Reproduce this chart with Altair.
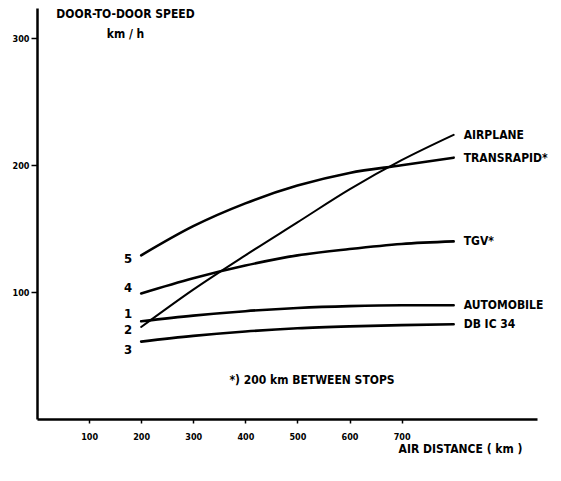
import altair as alt
import pandas as pd

# ---- data ----
distance = [200, 300, 400, 500, 600, 700, 800]
airplane = [72.5, 102, 129, 155, 181, 204, 224]
transrapid = [129, 152, 170, 184, 194, 200, 206]
tgv = [99, 111, 121, 129, 134, 138, 140]
automobile = [77, 81.5, 85, 87.5, 89, 89.7, 89.7]
db_ic = [61, 65.5, 69, 71.5, 73, 74, 74.7]

series_names = ["AIRPLANE", "TRANSRAPID*", "TGV*", "AUTOMOBILE", "DB IC 34"]
series_numbers = ["2", "5", "4", "1", "3"]
series_values = [airplane, transrapid, tgv, automobile, db_ic]

x_ticks = [100, 200, 300, 400, 500, 600, 700]
y_ticks = [100, 200, 300]

y_title = ["DOOR-TO-DOOR SPEED", "km / h"]
x_title = "AIR DISTANCE ( km )"
footnote = "*) 200 km BETWEEN STOPS"

# ---- styling ----
FONT = "DejaVu Sans Condensed, DejaVu Sans"
line_widths = {"AIRPLANE": 2.0}
number_dy = {"2": 3, "5": 4, "4": -5, "1": -7, "3": 8}

x_scale = alt.Scale(domain=[0, 960], nice=False, zero=True)
y_scale = alt.Scale(domain=[0, 324], nice=False, zero=True)

x_axis = alt.Axis(values=x_ticks, title=x_title, grid=False, tickSize=4,
                  labelPadding=9, labelFontSize=9, labelFont=FONT,
                  labelFontWeight="bold", titleFont=FONT, titleFontSize=12,
                  titleFontWeight="bold", titleX=423, titleY=29,
                  titleAnchor="middle", titleAlign="center", titleBaseline="middle",
                  domainWidth=2.5, domainColor="black", tickColor="black",
                  tickWidth=1.5, labelColor="black", titleColor="black")
y_axis = alt.Axis(values=y_ticks, title=y_title, grid=False, tickSize=6,
                  labelPadding=2, labelFontSize=9, labelFont=FONT,
                  labelFontWeight="bold", titleFont=FONT, titleFontSize=12,
                  titleFontWeight="bold", titleAngle=0, titleX=88, titleY=5,
                  titleAlign="center", titleBaseline="middle", titleLineHeight=20,
                  domainWidth=2.5, domainColor="black", tickColor="black",
                  tickWidth=1.5, labelColor="black", titleColor="black")

xe = alt.X("distance:Q", scale=x_scale, axis=x_axis)
ye = alt.Y("speed:Q", scale=y_scale, axis=y_axis)

layers = []
for name, num, vals in zip(series_names, series_numbers, series_values):
    df = pd.DataFrame({"distance": distance, "speed": vals, "series": name, "num": num})
    base = alt.Chart(df)
    layers.append(base.mark_line(interpolate="monotone", color="black",
                                 strokeWidth=line_widths.get(name, 2.6),
                                 strokeCap="round").encode(x=xe, y=ye))
    end = base.transform_filter(alt.datum.distance == max(distance))
    layers.append(end.mark_text(align="left", baseline="middle", dx=10, font=FONT,
                                fontSize=12, fontWeight="bold", color="black")
                  .encode(x=xe, y=ye, text="series:N"))
    start = base.transform_filter(alt.datum.distance == min(distance))
    layers.append(start.mark_text(align="center", baseline="middle", dx=-13,
                                  dy=number_dy[num], font=FONT, fontSize=13,
                                  fontWeight="bold", color="black")
                  .encode(x=xe, y=ye, text="num:N"))

note = alt.Chart(pd.DataFrame({"distance": [528], "speed": [30.7], "t": [footnote]})).mark_text(
    align="center", baseline="middle", font=FONT, fontSize=12, fontWeight="bold",
    color="black").encode(x=xe, y=ye, text="t:N")
layers.append(note)

chart = alt.layer(*layers).properties(
    width=500, height=411,
    autosize=alt.AutoSizeParams(type="none"),
    padding={"left": 29, "top": 0, "right": 12, "bottom": 50},
    background="white",
).configure_view(stroke=None)

chart.save("out.html", embed_options={"renderer": "svg", "actions": False})
